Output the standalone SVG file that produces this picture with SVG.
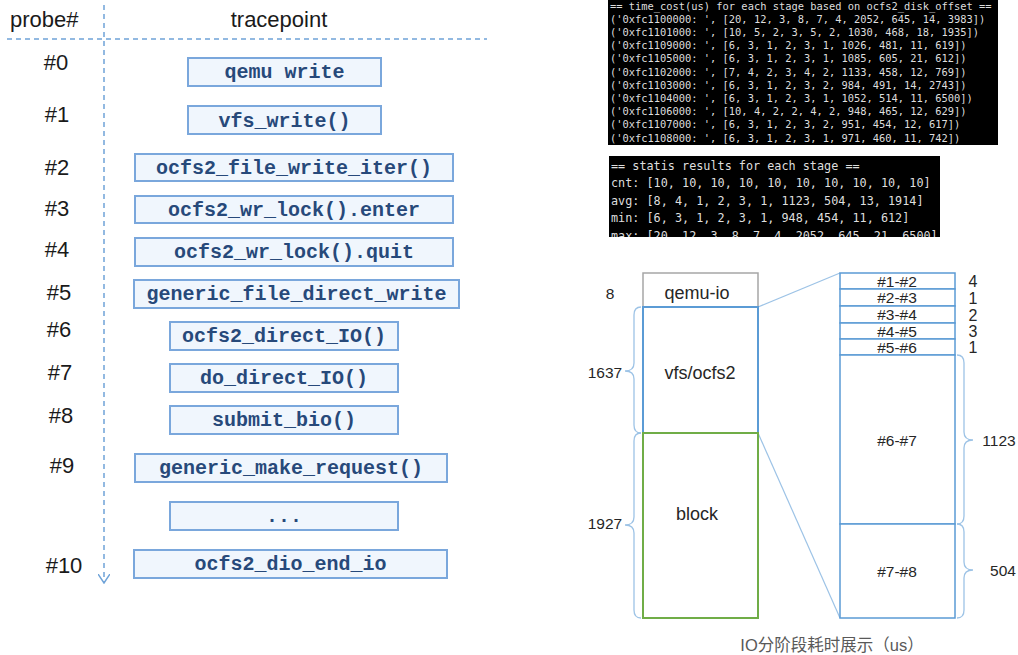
<svg xmlns="http://www.w3.org/2000/svg" width="1018" height="655" viewBox="0 0 1018 655">
<style>
.hdr{font-family:"Liberation Sans",Arial,sans-serif;font-size:22px;fill:#1a1a1a}
.pr{font-family:"Liberation Sans",Arial,sans-serif;font-size:22px;fill:#1a1a1a;text-anchor:middle}
.tp rect{fill:#f0f6fd;stroke:#7aa7dc;stroke-width:2}
.tp text{font-family:"Liberation Mono","Courier New",monospace;font-weight:bold;font-size:20px;fill:#27497a;text-anchor:middle}
.dash{stroke:#6fa3d8;stroke-width:1.5;stroke-dasharray:5,4;fill:none}
.term{fill:#000}
.tt{font-family:"DejaVu Sans Mono",monospace;font-size:10.4px;fill:#dedede;white-space:pre}
.t2{font-family:"DejaVu Sans Mono",monospace;font-size:11.8px;fill:#dedede;white-space:pre}
.lbl{font-family:"Liberation Sans",Arial,sans-serif;fill:#262626;text-anchor:middle}
.brace{fill:none;stroke:#9dc3e6;stroke-width:1.3}
.zl{stroke:#9dc3e6;stroke-width:1.2;fill:none}
.stk rect{fill:#fff;stroke:#5b9bd5;stroke-width:1.5}
</style>
<defs>
<marker id="chev" viewBox="0 0 10 12" refX="9" refY="6" markerWidth="10" markerHeight="12" markerUnits="userSpaceOnUse" orient="auto">
<polyline points="0,0 9,6 0,12" fill="none" stroke="#6fa3d8" stroke-width="1.5"/>
</marker>
<clipPath id="c2"><rect x="609" y="156" width="331" height="81"/></clipPath>
</defs>

<!-- header -->
<g id="header">
<text class="hdr" x="10" y="27">probe#</text>
<text class="hdr" x="279" y="27" text-anchor="middle">tracepoint</text>
</g>

<g id="connectors">
<line class="dash" x1="7" y1="39" x2="487" y2="39"/>
<line class="dash" x1="104" y1="5" x2="104" y2="583" marker-end="url(#chev)"/>
<line class="zl" x1="758" y1="307" x2="840" y2="273"/>
<line class="zl" x1="758" y1="433" x2="840" y2="618"/>
</g>

<!-- probe numbers -->
<g id="probes">
<text class="pr" x="56" y="70">#0</text>
<text class="pr" x="57" y="122">#1</text>
<text class="pr" x="57" y="175">#2</text>
<text class="pr" x="57" y="216">#3</text>
<text class="pr" x="57" y="257">#4</text>
<text class="pr" x="59" y="300">#5</text>
<text class="pr" x="59" y="337">#6</text>
<text class="pr" x="60" y="380">#7</text>
<text class="pr" x="61" y="423">#8</text>
<text class="pr" x="62" y="473">#9</text>
<text class="pr" x="64" y="573">#10</text>
</g>

<!-- tracepoint boxes -->
<g id="tp0" class="tp"><rect x="188" y="58" width="193" height="28"/><text x="284.5" y="78">qemu write</text></g>
<g id="tp1" class="tp"><rect x="188" y="106" width="193" height="28"/><text x="284.5" y="126.5">vfs_write()</text></g>
<g id="tp2" class="tp"><rect x="135" y="154" width="318" height="27"/><text x="294" y="174">ocfs2_file_write_iter()</text></g>
<g id="tp3" class="tp"><rect x="135" y="196" width="318" height="27"/><text x="294" y="216">ocfs2_wr_lock().enter</text></g>
<g id="tp4" class="tp"><rect x="135" y="238" width="318" height="28"/><text x="294" y="258">ocfs2_wr_lock().quit</text></g>
<g id="tp5" class="tp"><rect x="134" y="280" width="325" height="28"/><text x="296.5" y="300">generic_file_direct_write</text></g>
<g id="tp6" class="tp"><rect x="170" y="322" width="228" height="28"/><text x="284" y="342">ocfs2_direct_IO()</text></g>
<g id="tp7" class="tp"><rect x="170" y="364" width="228" height="28"/><text x="284" y="384">do_direct_IO()</text></g>
<g id="tp8" class="tp"><rect x="170" y="406" width="228" height="28"/><text x="284" y="426">submit_bio()</text></g>
<g id="tp9" class="tp"><rect x="135" y="454" width="312" height="28"/><text x="291" y="474">generic_make_request()</text></g>
<g id="tpdots" class="tp"><rect x="170" y="502" width="228" height="28"/><text x="284" y="522">...</text></g>
<g id="tp10" class="tp"><rect x="134" y="550" width="313" height="28"/><text x="290.5" y="570">ocfs2_dio_end_io</text></g>

<!-- terminal 1 -->
<g id="term1">
<rect class="term" x="608" y="0" width="390" height="145"/>
<text class="tt" x="610" y="9.5">== time_cost(us) for each stage based on ocfs2_disk_offset ==</text>
<text class="tt" x="610" y="22.7">('0xfc1100000: ', [20, 12, 3, 8, 7, 4, 2052, 645, 14, 3983])</text>
<text class="tt" x="610" y="35.9">('0xfc1101000: ', [10, 5, 2, 3, 5, 2, 1030, 468, 18, 1935])</text>
<text class="tt" x="610" y="49.1">('0xfc1109000: ', [6, 3, 1, 2, 3, 1, 1026, 481, 11, 619])</text>
<text class="tt" x="610" y="62.3">('0xfc1105000: ', [6, 3, 1, 2, 3, 1, 1085, 605, 21, 612])</text>
<text class="tt" x="610" y="75.5">('0xfc1102000: ', [7, 4, 2, 3, 4, 2, 1133, 458, 12, 769])</text>
<text class="tt" x="610" y="88.7">('0xfc1103000: ', [6, 3, 1, 2, 3, 2, 984, 491, 14, 2743])</text>
<text class="tt" x="610" y="101.9">('0xfc1104000: ', [6, 3, 1, 2, 3, 1, 1052, 514, 11, 6500])</text>
<text class="tt" x="610" y="115.1">('0xfc1106000: ', [10, 4, 2, 2, 4, 2, 948, 465, 12, 629])</text>
<text class="tt" x="610" y="128.3">('0xfc1107000: ', [6, 3, 1, 2, 3, 2, 951, 454, 12, 617])</text>
<text class="tt" x="610" y="141.5">('0xfc1108000: ', [6, 3, 1, 2, 3, 1, 971, 460, 11, 742])</text>
</g>

<!-- terminal 2 -->
<g id="term2" clip-path="url(#c2)">
<rect class="term" x="609" y="156" width="331" height="81"/>
<text class="t2" x="611" y="169.5">== statis results for each stage ==</text>
<text class="t2" x="611" y="187">cnt: [10, 10, 10, 10, 10, 10, 10, 10, 10, 10]</text>
<text class="t2" x="611" y="204.5">avg: [8, 4, 1, 2, 3, 1, 1123, 504, 13, 1914]</text>
<text class="t2" x="611" y="222">min: [6, 3, 1, 2, 3, 1, 948, 454, 11, 612]</text>
<text class="t2" x="611" y="239.5">max: [20, 12, 3, 8, 7, 4, 2052, 645, 21, 6500]</text>
</g>

<!-- layer stack -->
<g id="qemu-io">
<rect x="643" y="273" width="115" height="34" fill="#fff" stroke="#a6a6a6" stroke-width="1.5"/>
<text class="lbl" x="697" y="299" font-size="18">qemu-io</text>
<text class="lbl" x="610" y="299" font-size="15.5">8</text>
</g>
<g id="vfs">
<rect x="643" y="307" width="115" height="126" fill="#fff" stroke="#5b9bd5" stroke-width="2"/>
<text class="lbl" x="700" y="379" font-size="18">vfs/ocfs2</text>
<path class="brace" d="M641,307 Q634,307 634,315 L634,363 Q634,371 625,371 Q634,371 634,379 L634,425 Q634,433 641,433"/>
<text class="lbl" x="605" y="377.5" font-size="15.5">1637</text>
</g>
<g id="block">
<rect x="643" y="433" width="115" height="185" fill="#fff" stroke="#70ad47" stroke-width="2"/>
<text class="lbl" x="697" y="520" font-size="18">block</text>
<path class="brace" d="M641,433 Q634,433 634,441 L634,517 Q634,525 625,525 Q634,525 634,533 L634,610 Q634,618 641,618"/>
<text class="lbl" x="605" y="529" font-size="15.5">1927</text>
</g>

<!-- detail stack -->
<g id="s12" class="stk"><rect x="840" y="273" width="115" height="16"/><text class="lbl" x="897" y="286.5" font-size="15.5">#1-#2</text><text class="lbl" x="973" y="287" font-size="16">4</text></g>
<g id="s23" class="stk"><rect x="840" y="289" width="115" height="17"/><text class="lbl" x="897" y="303" font-size="15.5">#2-#3</text><text class="lbl" x="973" y="303.5" font-size="16">1</text></g>
<g id="s34" class="stk"><rect x="840" y="306" width="115" height="17"/><text class="lbl" x="897" y="320" font-size="15.5">#3-#4</text><text class="lbl" x="973" y="320.5" font-size="16">2</text></g>
<g id="s45" class="stk"><rect x="840" y="323" width="115" height="16"/><text class="lbl" x="897" y="336.5" font-size="15.5">#4-#5</text><text class="lbl" x="973" y="337" font-size="16">3</text></g>
<g id="s56" class="stk"><rect x="840" y="339" width="115" height="16"/><text class="lbl" x="897" y="352.5" font-size="15.5">#5-#6</text><text class="lbl" x="973" y="353" font-size="16">1</text></g>
<g id="s67" class="stk"><rect x="840" y="355" width="115" height="169"/><text class="lbl" x="897" y="446" font-size="15.5">#6-#7</text>
<path class="brace" d="M957,355 Q964,355 964,363 L964,432 Q964,440 973,440 Q964,440 964,448 L964,516 Q964,524 957,524"/>
<text class="lbl" x="999" y="445.5" font-size="15.5">1123</text></g>
<g id="s78" class="stk"><rect x="840" y="524" width="115" height="94"/><text class="lbl" x="897" y="577" font-size="15.5">#7-#8</text>
<path class="brace" d="M957,524 Q964,524 964,532 L964,562 Q964,570 973,570 Q964,570 964,578 L964,610 Q964,618 957,618"/>
<text class="lbl" x="1003" y="575.5" font-size="15.5">504</text></g>

<g id="caption">
<text x="832" y="651" font-family="'Liberation Sans','Noto Sans CJK SC',sans-serif" font-size="16.5" fill="#595959" text-anchor="middle">IO分阶段耗时展示（us）</text>
</g>
</svg>
